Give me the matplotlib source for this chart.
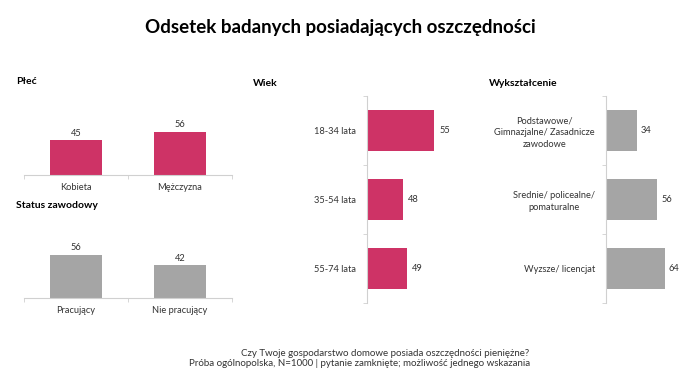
import matplotlib.pyplot as plt
import numpy as np

plt.rcParams['font.family'] = ['Lato', 'DejaVu Sans']

PINK = '#CE3366'
GRAY = '#A5A5A5'
AXIS = '#D0D0D0'

# data
plec_labels = ['Kobieta', 'Mężczyzna']
plec_values = [45, 56]
status_labels = ['Pracujący', 'Nie pracujący']
status_values = [56, 42]
wiek_labels = ['18-34 lata', '35-54 lata', '55-74 lata']
wiek_values = [55, 48, 49]
wyk_labels = ['Podstawowe/\nGimnazjalne/ Zasadnicze\nzawodowe',
              'Srednie/ policealne/\npomaturalne',
              'Wyzsze/ licencjat']
wyk_values = [34, 56, 64]

fig = plt.figure(figsize=(7, 3.92), dpi=100)
W, H = 700, 392


def px(x0, y0, x1, y1):
    # pixel box -> figure fraction rect
    return [x0 / W, 1 - y1 / H, (x1 - x0) / W, (y1 - y0) / H]


def vbar(rect, labels, values, color):
    ax = fig.add_axes(rect)
    x = np.arange(len(values))
    ax.bar(x, values, width=0.5, color=color)
    for xi, v in zip(x, values):
        ax.text(xi, v + 3, str(v), ha='center', va='bottom', fontsize=6.7, color='#333333')
    ax.set_xlim(-0.5, len(values) - 0.5)
    ax.set_ylim(0, 80)
    for s in ['top', 'left', 'right']:
        ax.spines[s].set_visible(False)
    ax.spines['bottom'].set_color(AXIS)
    ax.set_yticks([])
    ax.set_xticks(x)
    ax.set_xticklabels(labels, fontsize=6.7, color='#333333')
    ax.tick_params(axis='x', which='major', length=0, pad=6)
    ax.set_xticks(np.arange(len(values) + 1) - 0.5, minor=True)
    ax.tick_params(axis='x', which='minor', length=3, color=AXIS)
    return ax


def hbar(rect, labels, values, color, xmin, xmax):
    ax = fig.add_axes(rect)
    y = np.arange(len(values))
    ax.barh(y, [v - xmin for v in values], left=xmin, height=0.6, color=color)
    for yi, v in zip(y, values):
        ax.text(v + (xmax - xmin) * 0.06, yi, str(v), ha='left', va='center', fontsize=6.7, color='#333333')
    ax.set_ylim(len(values) - 0.5, -0.5)
    ax.set_xlim(xmin, xmax)
    for s in ['top', 'bottom', 'right']:
        ax.spines[s].set_visible(False)
    ax.spines['left'].set_color(AXIS)
    ax.set_xticks([])
    ax.set_yticks(y)
    ax.set_yticklabels(labels, fontsize=6.7, color='#333333', ha='right',
                       multialignment='center', linespacing=1.4)
    ax.tick_params(axis='y', which='major', length=0, pad=8)
    ax.set_yticks(np.arange(len(values) + 1) - 0.5, minor=True)
    ax.tick_params(axis='y', which='minor', length=3, color=AXIS)
    return ax


vbar(px(24, 113, 232, 175), plec_labels, plec_values, PINK)
vbar(px(24, 236, 232, 298), status_labels, status_values, GRAY)
hbar(px(367, 96, 456, 303), wiek_labels, wiek_values, PINK, 40, 60)
hbar(px(606, 96, 670, 303), wyk_labels, wyk_values, GRAY, 0, 70)

fig.text(340 / W, 1 - 27 / H, 'Odsetek badanych posiadających oszczędności',
         ha='center', va='center', fontsize=13.5, fontweight='bold')

fig.text(16 / W, 1 - 82 / H, 'Płeć', fontsize=7.5, fontweight='bold', va='center')
fig.text(16 / W, 1 - 205 / H, 'Status zawodowy', fontsize=7.5, fontweight='bold', va='center')
fig.text(253 / W, 1 - 83 / H, 'Wiek', fontsize=7.5, fontweight='bold', va='center')
fig.text(489 / W, 1 - 83 / H, 'Wykształcenie', fontsize=7.5, fontweight='bold', va='center')

fig.text(385 / W, 1 - 354 / H, 'Czy Twoje gospodarstwo domowe posiada oszczędności pieniężne?',
         ha='center', va='center', fontsize=7, color='#333333')
fig.text(360 / W, 1 - 364 / H, 'Próba ogólnopolska, N=1000 | pytanie zamknięte; możliwość jednego wskazania',
         ha='center', va='center', fontsize=7, color='#333333')

fig.savefig('out.png', dpi=100)
